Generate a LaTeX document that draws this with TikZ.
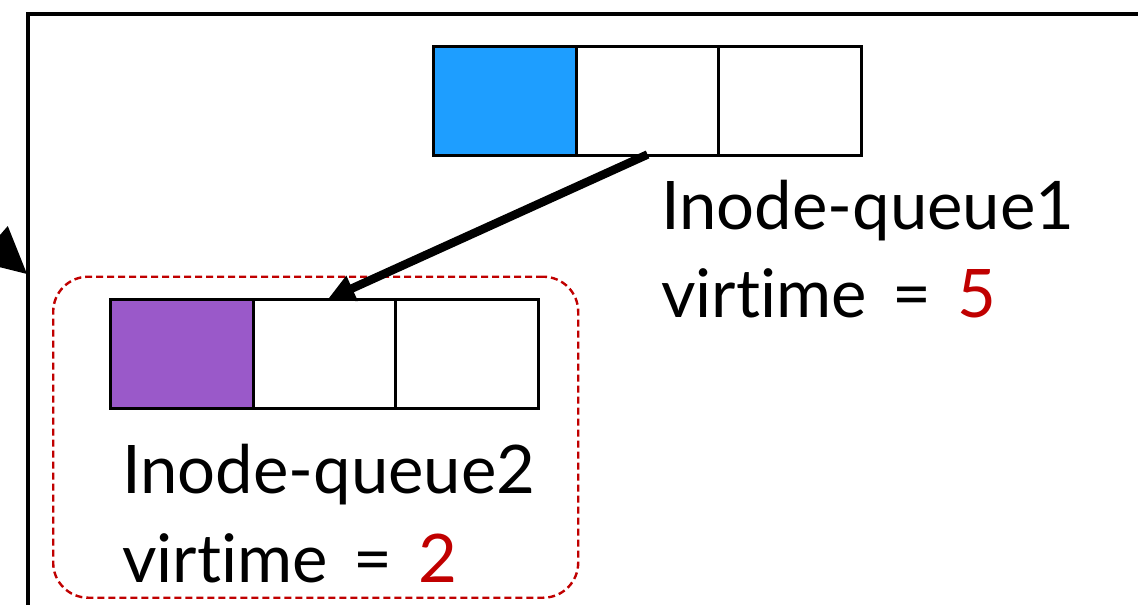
\documentclass[tikz,border=0pt]{standalone}
\usepackage{fontspec}
\setmainfont{Lato}[Ligatures=NoCommon, WordSpace=1.5]
\usetikzlibrary{arrows.meta}
\definecolor{qblue}{RGB}{30,158,255}
\definecolor{qpurple}{RGB}{154,89,201}
\definecolor{vred}{RGB}{192,0,0}
\begin{document}
\begin{tikzpicture}[x=1pt,y=-1pt,
  cell/.style={draw, line width=3pt, minimum width=142.7pt, minimum height=109pt, inner sep=0pt, outer sep=0pt, anchor=north west},
  lbl/.style={anchor=base west, inner sep=0pt, font=\fontsize{67}{80}\selectfont},
  grpbox/.style={draw=vred, dash pattern=on 7pt off 4pt, line width=2.4pt, rounded corners=35pt, inner sep=0pt, anchor=north west}]
\useasboundingbox (0,0) rectangle (1138,605);
\clip (0,0) rectangle (1138,605);
\draw[line width=3.2pt] (28,14) rectangle (1170,640);
% top queue
\node[cell, fill=qblue] (a1) at (433.5,46.5) {};
\node[cell] (a2) at (a1.north east) {};
\node[cell] (a3) at (a2.north east) {};
% group box
\node[grpbox, minimum width=525pt, minimum height=321pt] (grp) at (52,275.5) {};
% bottom queue
\node[cell, fill=qpurple] (b1) at (110.5,299.5) {};
\node[cell] (b2) at (b1.north east) {};
\node[cell] (b3) at (b2.north east) {};
% arrows
\draw[line width=8.5pt, -{Triangle[length=27pt,width=26pt]}] ([yshift=1pt]a2.south) -- ([xshift=3pt]b2.north);
\coordinate (ls) at (-90,172);
\coordinate (lt) at (27,274);
\draw[line width=4pt, -{Triangle[length=46pt,width=46pt]}] (ls) -- (lt);
% labels
\node[lbl] (t1) at (661,229) {Inode-queue1};
\node[lbl] (v1) at (661,317) {virtime = \textcolor{vred}{5}};
\node[lbl] (t2) at (122,493) {Inode-queue2};
\node[lbl] (v2) at (122,582) {virtime = \textcolor{vred}{2}};
\end{tikzpicture}
\end{document}
